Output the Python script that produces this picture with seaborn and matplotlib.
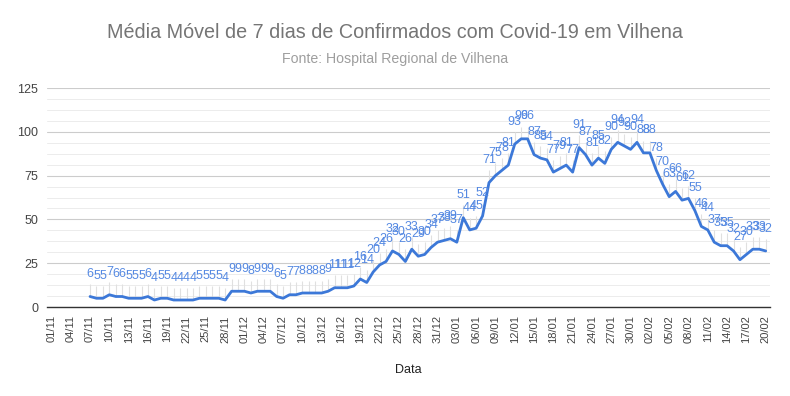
import pandas as pd
import seaborn as sns
import matplotlib.pyplot as plt
import matplotlib.dates as mdates

# media movel de 7 dias, a partir de 07/11/2020
start_date = "2020-11-07"
nov = [6, 5, 5, 7, 6, 6, 5, 5, 5, 6, 4, 5, 5, 4, 4, 4, 4, 5, 5, 5, 5, 4, 9, 9]
dez = [9, 8, 9, 9, 9, 6, 5, 7, 7, 8, 8, 8, 8, 9, 11, 11, 11, 12, 16, 14,
       20, 24, 26, 32, 30, 26, 33, 29, 30, 34, 37]
jan = [38, 39, 37, 51, 44, 45, 52, 71, 75, 78, 81, 93, 96, 96, 87, 85,
       84, 77, 79, 81, 77, 91, 87, 81, 85, 82, 90, 94, 92, 90, 94]
fev = [88, 88, 78, 70, 63, 66, 61, 62, 55, 46, 44, 37, 35, 35, 32, 27,
       30, 33, 33, 32]
media_movel = nov + dez + jan + fev

tick_start = "2020-11-01"
tick_end = "2021-02-20"
y_ticks = [0, 25, 50, 75, 100, 125]

df = pd.DataFrame({
    "Data": pd.date_range(start_date, periods=len(media_movel), freq="D"),
    "Media": media_movel,
})

sns.set_theme(style="white")
plt.rcParams['font.family'] = ['Liberation Sans', 'DejaVu Sans']

fig = plt.figure(figsize=(7.9, 3.96), dpi=100)
ax = fig.add_axes([0.059, 0.2247, 0.916, 0.553])

blue = "#3c78d8"
label_blue = "#5589e2"

# barras claras entre a linha e os rotulos
ax.vlines(df["Data"], df["Media"], df["Media"] + 7, color="#e0e0e0", lw=0.8, zorder=1)
sns.lineplot(data=df, x="Data", y="Media", color=blue, lw=2, ax=ax, zorder=3)

for d, v in zip(df["Data"], df["Media"]):
    ax.annotate(str(v), (d, v + 7), xytext=(0, 3), textcoords="offset points",
                ha="center", va="bottom", fontsize=9, color=label_blue, zorder=4)

ax.set_ylim(0, 125)
ax.set_yticks(y_ticks)
ax.set_yticks([t + k * 6.25 for t in y_ticks[:-1] for k in (1, 2, 3)], minor=True)
ax.grid(axis="y", which="major", color="#cccccc", lw=0.8)
ax.grid(axis="y", which="minor", color="#ececec", lw=0.7)
ax.grid(axis="x", visible=False)
ax.set_axisbelow(True)

ticks = pd.date_range(tick_start, tick_end, freq="3D")
ax.set_xticks(ticks)
ax.xaxis.set_major_formatter(mdates.DateFormatter("%d/%m"))
ax.set_xlim(pd.Timestamp(tick_start) - pd.Timedelta(hours=18),
            pd.Timestamp(tick_end) + pd.Timedelta(hours=17))
ax.tick_params(axis="x", labelrotation=90, labelsize=8, colors="#444444", length=0, pad=6)
ax.tick_params(axis="y", labelsize=9, colors="#444444", length=0, pad=6)

for s in ["left", "right", "top"]:
    ax.spines[s].set_visible(False)
ax.spines["bottom"].set_color("#333333")
ax.spines["bottom"].set_linewidth(1)

ax.set_xlabel("")
ax.set_ylabel("")

fig.text(0.5, 1 - 33 / 396, "Média Móvel de 7 dias de Confirmados com Covid-19 em Vilhena",
         ha="center", va="center", fontsize=14.2, color="#757575")
fig.text(0.5, 1 - 59 / 396, "Fonte: Hospital Regional de Vilhena",
         ha="center", va="center", fontsize=10.2, color="#9e9e9e")
fig.text(408 / 790, 1 - 370 / 396, "Data", ha="center", va="center", fontsize=9, color="#222222")

fig.savefig("out.png", dpi=100)
